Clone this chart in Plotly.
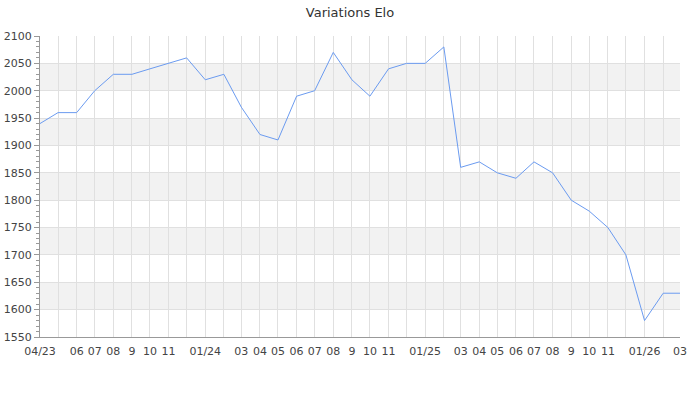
import plotly.graph_objects as go
import pandas as pd

months = pd.date_range("2023-04-01", "2026-03-01", freq="MS")
elo = [1940, 1960, 1960, 2000, 2030, 2030, 2040, 2050, 2060, 2020, 2030, 1970,
       1920, 1910, 1990, 2000, 2070, 2020, 1990, 2040, 2050, 2050, 2080, 1860,
       1870, 1850, 1840, 1870, 1850, 1800, 1780, 1750, 1700, 1580, 1630, 1630]
tick_labels = ["04/23", "", "06", "07", "08", "9", "10", "11", "", "01/24", "", "03",
               "04", "05", "06", "07", "08", "9", "10", "11", "", "01/25", "", "03",
               "04", "05", "06", "07", "08", "9", "10", "11", "", "01/26", "", "03"]
band_starts = [1600, 1700, 1800, 1900, 2000]

fig = go.Figure()
fig.add_trace(go.Scatter(x=months, y=elo, mode="lines",
                         line=dict(color="#6b9bf0", width=1), hoverinfo="x+y"))

for b in band_starts:
    fig.add_shape(type="rect", xref="paper", yref="y", x0=0, x1=1, y0=b, y1=b + 50,
                  fillcolor="#f2f2f2", line_width=0, layer="below")

fig.update_layout(
    width=700, height=400,
    margin=dict(l=40, r=20, t=36, b=63, autoexpand=False),
    paper_bgcolor="white", plot_bgcolor="white",
    showlegend=False,
    font=dict(family="DejaVu Sans", size=11, color="#444"),
    title=dict(text="Variations Elo", x=0.5, xanchor="center",
               yref="container", y=0.97, yanchor="middle",
               font=dict(size=13, color="#333")),
)
fig.update_xaxes(
    type="date", range=[months[0], months[-1]],
    tickmode="array", tickvals=list(months), ticktext=tick_labels,
    showgrid=True, gridcolor="#e0e0e0", gridwidth=1,
    showline=True, linecolor="#999", linewidth=1,
    ticks="outside", ticklen=4, tickcolor="rgba(0,0,0,0)",
    zeroline=False, tickangle=0, automargin=False,
)
fig.update_yaxes(
    range=[1550, 2100], dtick=50, tick0=1550,
    showgrid=True, gridcolor="#e0e0e0", gridwidth=1,
    showline=True, linecolor="#999", linewidth=1,
    ticks="outside", ticklen=5, tickcolor="#999",
    minor=dict(dtick=10, ticks="outside", ticklen=3, tickcolor="#999", showgrid=False),
    zeroline=False, automargin=False,
)
fig.write_html("out.html", config={"displayModeBar": False},
               post_script="document.body.style.margin='0';")
